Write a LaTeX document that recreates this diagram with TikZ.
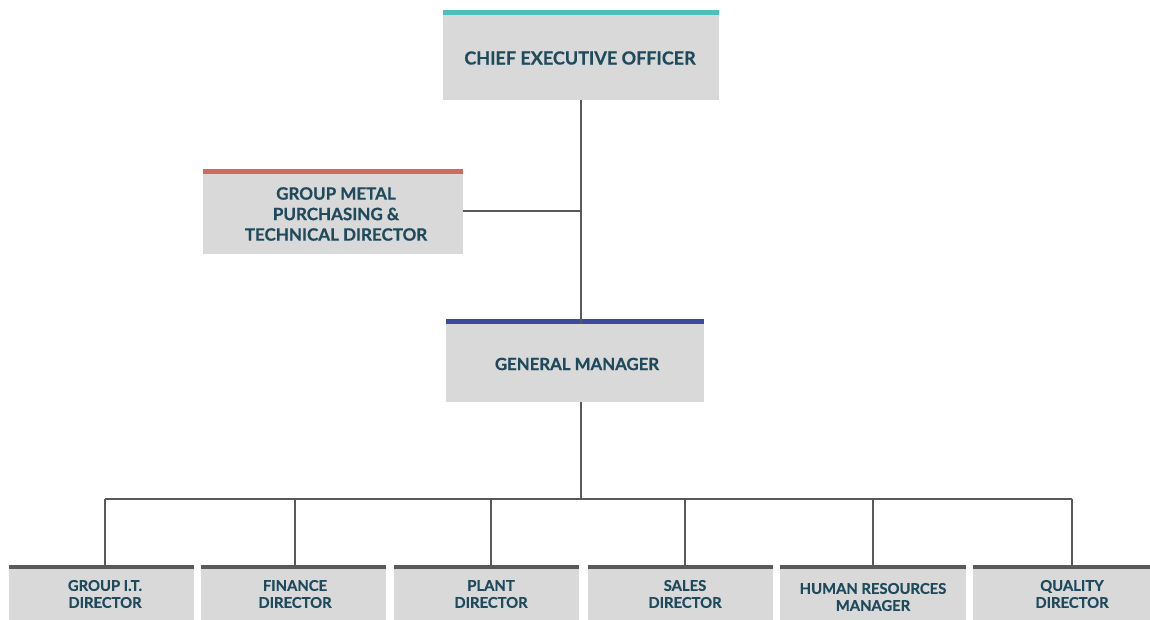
\documentclass[tikz,border=0pt]{standalone}
\usepackage{fontspec}
\setmainfont{Lato}[BoldFeatures={FakeBold=0.6}]
\definecolor{boxgray}{HTML}{D9D9D9}
\definecolor{txt}{HTML}{1F4A5C}
\definecolor{ceobar}{HTML}{4BBFB8}
\definecolor{gmpbar}{HTML}{D06A5A}
\definecolor{gmbar}{HTML}{3C4B9B}
\definecolor{lowbar}{HTML}{595959}
\definecolor{linegray}{HTML}{595959}
\begin{document}
\begin{tikzpicture}[x=1pt,y=-1pt,
  box/.style={fill=boxgray, inner sep=0pt, draw=none},
  label/.style={text=txt, font=\bfseries, align=center, inner sep=0pt},
  conn/.style={draw=linegray, line width=1.4pt}]
\useasboundingbox (0,0) rectangle (1150,620);
\fill[white] (0,0) rectangle (1150,620);
% CEO
\node[box, minimum width=276pt, minimum height=85pt] (ceo) at (581,57.5) {};
\fill[ceobar] (ceo.north west) rectangle ++(276,-5);
\node[label, font=\fontsize{18}{21}\selectfont\bfseries] (ceot) at (580,58) {CHIEF EXECUTIVE OFFICER};
% GMP
\node[box, minimum width=260pt, minimum height=80pt] (gmp) at (333,214) {};
\fill[gmpbar] (gmp.north west) rectangle ++(260,-5);
\node[label, font=\fontsize{17}{20.5}\selectfont\bfseries] (gmpt) at (336,214) {GROUP METAL\\PURCHASING \&\\TECHNICAL DIRECTOR};
% GM
\node[box, minimum width=258pt, minimum height=78pt] (gm) at (575,363) {};
\fill[gmbar] (gm.north west) rectangle ++(258,-5);
\node[label, font=\fontsize{16.8}{19}\selectfont\bfseries] (gmt) at (577,364) {GENERAL MANAGER};
% connectors top
\coordinate (j1) at (581,211);
\draw[conn] (ceo.south) -- (j1);
\draw[conn] (gmp.east |- j1) -- (j1);
\draw[conn] (j1) -- (ceo.south |- gm.north);
\coordinate (bus) at (581,499);
\draw[conn] (gm.south -| bus) -- (bus);
% bottom boxes
\foreach \n/\cx/\w/\dx/\ty/\t in {
  b1/101.5/185/105/594/{GROUP I.T.\\DIRECTOR},
  b2/293.5/185/295/594/{FINANCE\\DIRECTOR},
  b3/486.5/185/491/594/{PLANT\\DIRECTOR},
  b4/680.5/185/685/594/{SALES\\DIRECTOR},
  b5/873/186/873/597/{HUMAN RESOURCES\\MANAGER},
  b6/1062/178/1072/594/{QUALITY\\DIRECTOR}} {
  \node[box, minimum width=\w pt, minimum height=56pt] (\n) at (\cx,597) {};
  \fill[lowbar] (\n.north west) rectangle ++(\w,-4);
  \coordinate (d\n) at (\dx,499);
  \node[label, font=\fontsize{14.8}{17}\selectfont\bfseries] (\n t) at (\dx,\ty) {\t};
}
\draw[conn] (db1) -- (db6);
\foreach \n in {b1,b2,b3,b4,b5,b6} {
  \draw[conn] (d\n) -- ([yshift=4pt]d\n |- \n.north);
}
\end{tikzpicture}
\end{document}
